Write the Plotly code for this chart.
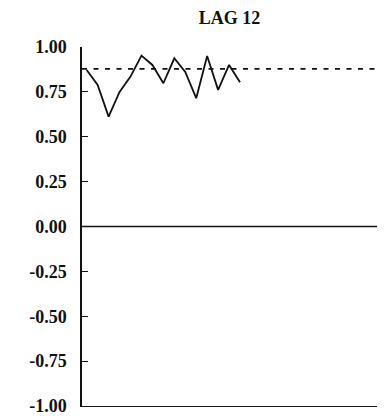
import plotly.graph_objects as go

# Autocorrelation estimates at lag 12 for successive samples
sample_index = list(range(1, 16))
lag12_acf = [0.872, 0.789, 0.612, 0.750, 0.835, 0.952, 0.900, 0.798,
             0.937, 0.861, 0.715, 0.950, 0.761, 0.900, 0.804]
reference_level = 0.878

y_ticks = [1.00, 0.75, 0.50, 0.25, 0.00, -0.25, -0.50, -0.75, -1.00]
y_tick_labels = ["1.00", "0.75", "0.50", "0.25", "0.00",
                 "-0.25", "-0.50", "-0.75", "-1.00"]

ink = "#111111"
serif = "Liberation Serif"

fig = go.Figure()
fig.add_trace(go.Scatter(
    x=sample_index, y=lag12_acf, mode="lines",
    line=dict(color=ink, width=1.8),
    showlegend=False, hoverinfo="skip",
))

# dotted reference level across the whole panel
fig.add_shape(type="line", xref="paper", yref="y", x0=0, x1=1,
              y0=reference_level, y1=reference_level,
              line=dict(color=ink, width=1.6, dash="5px,6.5px"))
# zero line
fig.add_shape(type="line", xref="paper", yref="y", x0=0, x1=1,
              y0=0, y1=0, line=dict(color=ink, width=1.5))

fig.update_layout(
    width=387, height=416,
    margin=dict(l=82, r=10, t=47, b=10),
    paper_bgcolor="white", plot_bgcolor="white",
    title=dict(text="LAG 12", x=0.5, xref="paper", xanchor="center",
               y=1 - 17.5 / 416, yref="container", yanchor="middle",
               font=dict(family=serif, size=18, color=ink, weight="bold")),
    xaxis=dict(range=[0.57, 27.51], showgrid=False, zeroline=False,
               showline=True, linecolor=ink, linewidth=1.4,
               showticklabels=False, ticks=""),
    yaxis=dict(range=[-1.0, 1.0], showgrid=False, zeroline=False,
               showline=True, linecolor=ink, linewidth=1.5,
               tickvals=y_ticks, ticktext=y_tick_labels,
               ticks="inside", ticklen=6, tickwidth=1.3, tickcolor=ink,
               ticklabelstandoff=10, ticklabeloverflow="allow",
               automargin=False,
               tickfont=dict(family=serif, size=18, color=ink, weight="bold")),
)

fig.write_html("out.html")
